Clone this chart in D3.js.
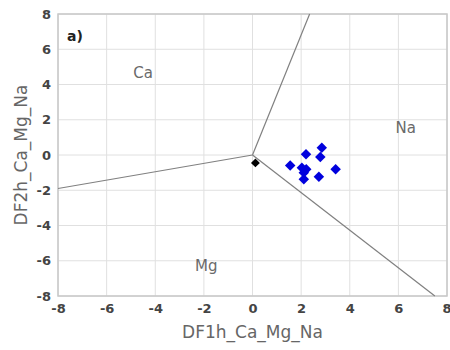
<!DOCTYPE html>
<html>
<head>
<meta charset="utf-8">
<script src="https://cdn.jsdelivr.net/npm/d3@7"></script>
<style>
  body { margin: 0; background: #fff; }
  text { font-family: "DejaVu Sans", sans-serif; }
</style>
</head>
<body>
<svg id="chart" width="450" height="350"></svg>
<script>
// Discriminant function diagram (Ca / Mg / Na fields)
const ticks = [-8, -6, -4, -2, 0, 2, 4, 6, 8]

// field boundaries: each runs from the junction to the frame
const junction = [0, 0]
const boundaryEnds = [[2.35, 8], [-8, -1.9], [7.5, -8]]

// samples
const sampleX = [2.2, 2.85, 2.79, 1.55, 2.03, 2.21, 2.11, 2.11, 2.73, 3.42]
const sampleY = [0.04, 0.41, -0.11, -0.59, -0.72, -0.81, -1.0, -1.38, -1.23, -0.81]

// reference point
const refPoint = [0.12, -0.45]

const fieldNames = ["Ca", "Na", "Mg"]
const fieldPos = [[-4.5, 4.6], [6.3, 1.5], [-1.9, -6.3]]

const svg = d3.select("#chart")
const mLeft = 58, mRight = 447, mTop = 14, mBottom = 296

const x = d3.scaleLinear().domain([-8, 8]).range([mLeft, mRight])
const y = d3.scaleLinear().domain([-8, 8]).range([mBottom, mTop])

// grid
svg.append("g").selectAll("line.vg").data(ticks).enter().append("line")
  .attr("x1", d => x(d)).attr("x2", d => x(d))
  .attr("y1", mTop).attr("y2", mBottom)
  .attr("stroke", "#e0e0e0").attr("stroke-width", 1)
svg.append("g").selectAll("line.hg").data(ticks).enter().append("line")
  .attr("y1", d => y(d)).attr("y2", d => y(d))
  .attr("x1", mLeft).attr("x2", mRight)
  .attr("stroke", "#e0e0e0").attr("stroke-width", 1)

// frame
svg.append("rect")
  .attr("x", mLeft).attr("y", mTop)
  .attr("width", mRight - mLeft).attr("height", mBottom - mTop)
  .attr("fill", "none").attr("stroke", "#c8c8c8").attr("stroke-width", 1.5)

// axes (labels only, the frame does the lines); plain hyphen for negatives
const fmt = d => String(d)
const xAxis = svg.append("g").attr("transform", `translate(0,${mBottom})`)
  .call(d3.axisBottom(x).tickValues(ticks).tickFormat(fmt).tickSize(0).tickPadding(8))
const yAxis = svg.append("g").attr("transform", `translate(${mLeft},0)`)
  .call(d3.axisLeft(y).tickValues(ticks).tickFormat(fmt).tickSize(0).tickPadding(7))
for (const ax of [xAxis, yAxis]) {
  ax.select(".domain").remove()
  ax.selectAll("text")
    .attr("font-family", "DejaVu Sans, sans-serif")
    .attr("font-size", 13).attr("font-weight", "bold").attr("fill", "#444")
}
// last x label sits on the window edge
xAxis.selectAll(".tick").filter(d => d === 8).select("text").attr("text-anchor", "end").attr("dx", 4)

// boundaries
svg.append("g").selectAll("line.b").data(boundaryEnds).enter().append("line")
  .attr("x1", x(junction[0])).attr("y1", y(junction[1]))
  .attr("x2", d => x(d[0])).attr("y2", d => y(d[1]))
  .attr("stroke", "#808080").attr("stroke-width", 1.2)

// field names
svg.append("g").selectAll("text").data(fieldNames).enter().append("text")
  .attr("x", (d, i) => x(fieldPos[i][0])).attr("y", (d, i) => y(fieldPos[i][1]))
  .attr("text-anchor", "middle").attr("dominant-baseline", "middle")
  .attr("font-size", 15).attr("fill", "#6a6a6a")
  .text(d => d)

// panel label
svg.append("text").attr("x", 67).attr("y", 41)
  .attr("font-size", 14).attr("font-weight", "bold").attr("fill", "#222")
  .text("a)")

// samples
const diamond = d3.symbol().type(d3.symbolDiamond2).size(70)
svg.append("g").selectAll("path").data(sampleX).enter().append("path")
  .attr("d", diamond)
  .attr("transform", (d, i) => `translate(${x(d)},${y(sampleY[i])})`)
  .attr("fill", "#0000dd")

svg.append("path").attr("d", d3.symbol().type(d3.symbolDiamond2).size(50))
  .attr("transform", `translate(${x(refPoint[0])},${y(refPoint[1])})`)
  .attr("fill", "#000")

// axis titles
svg.append("text").attr("x", x(0)).attr("y", 338)
  .attr("text-anchor", "middle").attr("font-size", 17).attr("fill", "#666")
  .text("DF1h_Ca_Mg_Na")
svg.append("text").attr("transform", `translate(27,${y(0)}) rotate(-90)`)
  .attr("text-anchor", "middle").attr("font-size", 17).attr("fill", "#666")
  .text("DF2h_Ca_Mg_Na")
</script>
</body>
</html>
